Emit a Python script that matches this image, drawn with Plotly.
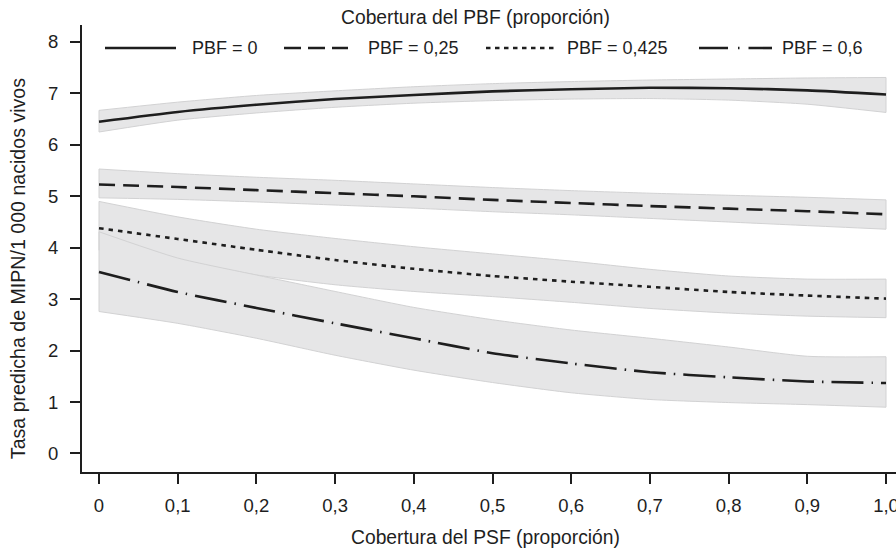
import plotly.graph_objects as go

# ---- data ----
psf = [0, 0.1, 0.2, 0.3, 0.4, 0.5, 0.6, 0.7, 0.8, 0.9, 1.0]

pbf0 = [6.45, 6.64, 6.78, 6.89, 6.97, 7.04, 7.08, 7.11, 7.10, 7.06, 6.98]
pbf0_up = [6.67, 6.83, 6.96, 7.05, 7.13, 7.19, 7.23, 7.26, 7.28, 7.30, 7.31]
pbf0_lo = [6.25, 6.48, 6.62, 6.73, 6.81, 6.86, 6.89, 6.90, 6.87, 6.79, 6.63]

pbf025 = [5.23, 5.18, 5.12, 5.06, 5.00, 4.93, 4.87, 4.81, 4.76, 4.71, 4.65]
pbf025_up = [5.53, 5.44, 5.37, 5.31, 5.24, 5.17, 5.11, 5.06, 5.02, 4.98, 4.93]
pbf025_lo = [4.97, 4.94, 4.89, 4.83, 4.77, 4.70, 4.64, 4.57, 4.50, 4.43, 4.36]

pbf0425 = [4.38, 4.17, 3.96, 3.76, 3.59, 3.45, 3.34, 3.24, 3.14, 3.07, 3.01]
pbf0425_up = [4.90, 4.60, 4.36, 4.18, 4.02, 3.88, 3.74, 3.58, 3.45, 3.39, 3.39]
pbf0425_lo = [3.95, 3.76, 3.47, 3.28, 3.15, 3.05, 2.94, 2.82, 2.73, 2.67, 2.64]

pbf06 = [3.53, 3.14, 2.83, 2.53, 2.24, 1.95, 1.75, 1.58, 1.48, 1.40, 1.37]
pbf06_up = [4.31, 3.80, 3.47, 3.15, 2.84, 2.60, 2.40, 2.24, 2.07, 1.89, 1.88]
pbf06_lo = [2.76, 2.53, 2.24, 1.91, 1.62, 1.38, 1.18, 1.05, 0.99, 0.95, 0.90]

series_names = ["PBF = 0", "PBF = 0,25", "PBF = 0,425", "PBF = 0,6"]
x_tickvals = [0, 0.1, 0.2, 0.3, 0.4, 0.5, 0.6, 0.7, 0.8, 0.9, 1.0]
x_ticktext = ["0", "0,1", "0,2", "0,3", "0,4", "0,5", "0,6", "0,7", "0,8", "0,9", "1,0"]
y_tickvals = [0, 1, 2, 3, 4, 5, 6, 7, 8]

# ---- styles ----
FONT = "Liberation Sans, Arial, sans-serif"
INK = "#1e1e1e"
BAND_FILL = "#e6e6e7"
BAND_EDGE = "#d2d2d3"
dashes = ["solid", "16px,8px", "4.5px,5px", "32px,8px,1.5px,8px"]
legend_dashes = ["solid", "17px,7px", "4.5px,4.5px", "29px,10px,1.5px,9px"]

mids = [pbf0, pbf025, pbf0425, pbf06]
ups = [pbf0_up, pbf025_up, pbf0425_up, pbf06_up]
los = [pbf0_lo, pbf025_lo, pbf0425_lo, pbf06_lo]

fig = go.Figure()
for up, lo in zip(ups, los):
    fig.add_trace(go.Scatter(
        x=psf, y=lo, mode="lines",
        line=dict(color=BAND_EDGE, width=1, shape="spline", smoothing=0.6),
        showlegend=False, hoverinfo="skip"))
    fig.add_trace(go.Scatter(
        x=psf, y=up, mode="lines", fill="tonexty", fillcolor=BAND_FILL,
        line=dict(color=BAND_EDGE, width=1, shape="spline", smoothing=0.6),
        showlegend=False, hoverinfo="skip"))
# closing edges of the bands at both ends
for up, lo in zip(ups, los):
    for i in (0, -1):
        fig.add_trace(go.Scatter(
            x=[psf[i], psf[i]], y=[lo[i], up[i]], mode="lines",
            line=dict(color=BAND_EDGE, width=1), showlegend=False, hoverinfo="skip"))
for name, mid, d in zip(series_names, mids, dashes):
    fig.add_trace(go.Scatter(
        x=psf, y=mid, mode="lines", name=name, showlegend=False,
        line=dict(color=INK, width=2.6, dash=d, shape="spline", smoothing=0.6)))

# ---- layout geometry (pixels) ----
W, H = 896, 550
L, T, R, B = 82, 25, 0, 78.3
pw, ph = W - L - R, H - T - B


def px_x(px):
    return (px - L) / pw


def px_y(py):
    return (H - B - py) / ph


# custom legend (line samples longer than plotly's native ones)
leg_y = px_y(48)
samples = [(105, 176, 190), (284, 348, 366), (486, 557, 565), (699, 772, 780)]
shapes = []
annotations = []
for (x0, x1, xt), name, d in zip(samples, series_names, legend_dashes):
    shapes.append(dict(type="line", xref="paper", yref="paper",
                       x0=px_x(x0), x1=px_x(x1), y0=leg_y, y1=leg_y,
                       line=dict(color=INK, width=2.6, dash=d)))
    annotations.append(dict(xref="paper", yref="paper", x=px_x(xt), y=leg_y,
                            xanchor="left", yanchor="middle", showarrow=False,
                            text=name, font=dict(size=18, color=INK, family=FONT)))
annotations.append(dict(xref="paper", yref="paper", x=px_x(475), y=px_y(18),
                        xanchor="center", yanchor="middle", showarrow=False,
                        text="Cobertura del PBF (proporción)",
                        font=dict(size=19.3, color=INK, family=FONT)))
annotations.append(dict(xref="paper", yref="paper", x=px_x(18), y=px_y(269),
                        xanchor="center", yanchor="middle", showarrow=False, textangle=-90,
                        text="Tasa predicha de MIPN/1 000 nacidos vivos",
                        font=dict(size=19.6, color=INK, family=FONT)))
annotations.append(dict(xref="paper", yref="paper", x=px_x(485), y=px_y(537),
                        xanchor="center", yanchor="middle", showarrow=False,
                        text="Cobertura del PSF (proporción)",
                        font=dict(size=19.3, color=INK, family=FONT)))

fig.update_layout(
    width=W, height=H,
    margin=dict(l=L, r=R, t=T, b=B, pad=0),
    paper_bgcolor="white", plot_bgcolor="white",
    font=dict(family=FONT, size=18, color=INK),
    showlegend=False,
    shapes=shapes, annotations=annotations,
    xaxis=dict(range=[-0.0216, 1.0127], tickvals=x_tickvals, ticktext=x_ticktext,
               showgrid=False, zeroline=False, showline=True, linecolor=INK, linewidth=1.8,
               ticks="outside", ticklen=10, tickwidth=1.5, tickcolor=INK,
               ticklabelstandoff=6, ticklabeloverflow="allow", automargin=False,
               tickfont=dict(size=18.5)),
    yaxis=dict(range=[-0.36, 8.33], tickvals=y_tickvals,
               showgrid=False, zeroline=False, showline=True, linecolor=INK, linewidth=1.8,
               ticks="outside", ticklen=10, tickwidth=1.5, tickcolor=INK,
               ticklabelstandoff=8, automargin=False, tickfont=dict(size=18.5)),
)

fig.write_html("out.html", config={"displayModeBar": False},
               post_script="document.body.style.margin='0';document.body.style.overflow='hidden';")
